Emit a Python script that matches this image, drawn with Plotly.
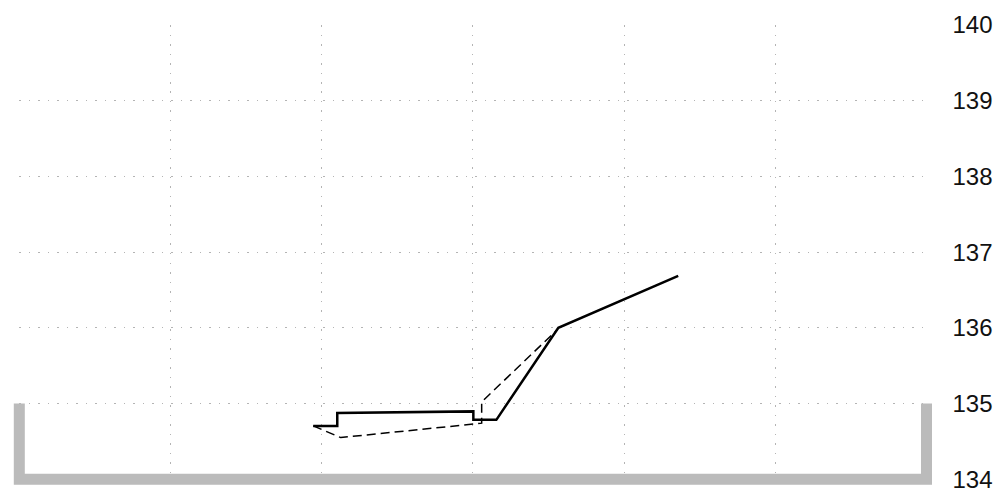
import plotly.graph_objects as go

# Channel outline (station m, elevation m)
channel_x = [0, 0, 60, 60]
channel_y = [135, 134, 134, 135]

# Solid profile
solid_x = [19.44, 21.03, 21.03, 30.03, 30.03, 31.55, 35.65, 43.58]
solid_y = [134.705, 134.705, 134.877, 134.897, 134.785, 134.785, 136.0, 136.687]

# Dashed profile
dashed_x = [19.44, 21.26, 30.58, 30.58, 35.6]
dashed_y = [134.705, 134.551, 134.741, 135.022, 135.98]

y_ticks = [134, 135, 136, 137, 138, 139, 140]
x_range = [0, 60]
y_range = [134, 140]

# layout geometry
W, H = 1001, 493
ml, mr, mt, mb = 13, 69, 25, 8
pw, ph = W - ml - mr, H - mt - mb
xd = [(19.3 - ml) / pw, (926.5 - ml) / pw]
yd = [(H - mb - 479.3) / ph, 1.0]

# channel subplot covers the full plot box with the same scale
xspan = (x_range[1] - x_range[0]) / (xd[1] - xd[0])
x2_range = [x_range[0] - xd[0] * xspan, x_range[0] - xd[0] * xspan + xspan]
yspan = (y_range[1] - y_range[0]) / (yd[1] - yd[0])
y2_range = [y_range[0] - yd[0] * yspan, y_range[0] - yd[0] * yspan + yspan]

fig = go.Figure()
fig.add_trace(go.Scatter(x=dashed_x, y=dashed_y, mode="lines",
                         line=dict(color="#000000", width=1.5, dash="9px,5px"),
                         showlegend=False))
fig.add_trace(go.Scatter(x=solid_x, y=solid_y, mode="lines",
                         line=dict(color="#000000", width=2.5),
                         showlegend=False))
fig.add_trace(go.Scatter(x=channel_x, y=channel_y, mode="lines", xaxis="x2", yaxis="y2",
                         line=dict(color="#bbbbbb", width=11),
                         hoverinfo="skip", showlegend=False))

grid = dict(showgrid=True, gridcolor="#b4b4b4", gridwidth=1, griddash="1.5px,8px",
            zeroline=False, showline=False, automargin=False)
hidden = dict(showgrid=False, zeroline=False, showline=False, showticklabels=False,
              ticks="", automargin=False)
fig.update_layout(
    width=W, height=H,
    margin=dict(l=ml, r=mr, t=mt, b=mb),
    paper_bgcolor="white", plot_bgcolor="rgba(0,0,0,0)",
    font=dict(family="Liberation Sans, Arial, sans-serif", size=24, color="#111111"),
    xaxis=dict(range=x_range, domain=xd, dtick=10, showticklabels=False, ticks="", **grid),
    yaxis=dict(range=y_range, domain=yd, tickvals=y_ticks, side="right", ticks="",
               ticklabelstandoff=25, **grid),
    xaxis2=dict(range=x2_range, domain=[0, 1], anchor="y2", **hidden),
    yaxis2=dict(range=y2_range, domain=[0, 1], anchor="x2", **hidden),
)
fig.write_html("out.html", config={"displayModeBar": False},
               post_script="document.body.style.margin='0px';")
